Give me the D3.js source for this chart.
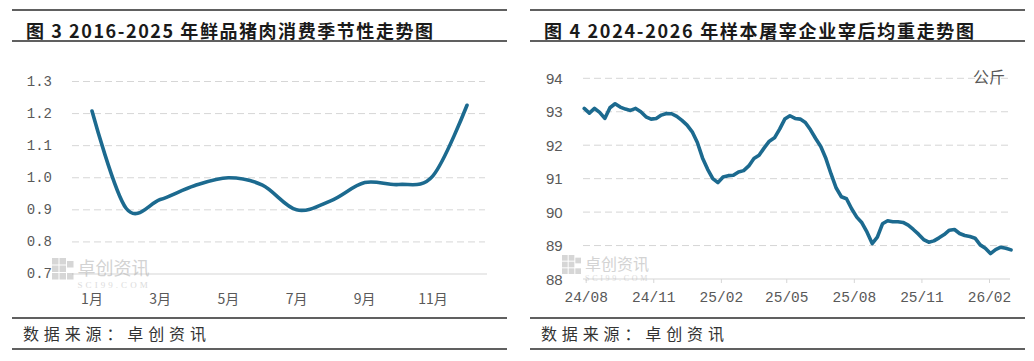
<!DOCTYPE html>
<html>
<head>
<meta charset="utf-8">
<script src="https://cdn.jsdelivr.net/npm/d3@7"></script>
<style>
  body { margin: 0; background: #fff; }
  svg { display: block; }
</style>
</head>
<body>
<div id="chart"></div>
<script>
// 图3：季节性指数（1-12月）
const months = ["1月","2月","3月","4月","5月","6月","7月","8月","9月","10月","11月","12月"];
const seasonal = [1.208, 0.905, 0.932, 0.975, 1.0, 0.977, 0.9, 0.928, 0.985, 0.979, 1.006, 1.226];
const leftTicks = [0.7, 0.8, 0.9, 1.0, 1.1, 1.2, 1.3];
const leftLabelMonths = ["1月","3月","5月","7月","9月","11月"];

// 图4：宰后均重，周度，起始 2024-07-30
const weightStart = "2024-07-30";
const weights = [
  93.10, 92.96, 93.10, 92.98, 92.80, 93.12, 93.24, 93.14, 93.08, 93.04,
  93.10, 93.00, 92.85, 92.78, 92.80, 92.90, 92.95, 92.94, 92.86, 92.74,
  92.60, 92.40, 92.08, 91.62, 91.28, 91.00, 90.88, 91.05, 91.09, 91.10,
  91.20, 91.24, 91.38, 91.60, 91.70, 91.92, 92.12, 92.22, 92.48, 92.78,
  92.88, 92.80, 92.78, 92.68, 92.46, 92.20, 91.96, 91.60, 91.14, 90.72,
  90.46, 90.40, 90.10, 89.85, 89.68, 89.40, 89.06, 89.25, 89.65, 89.74,
  89.71, 89.71, 89.69, 89.61, 89.48, 89.34, 89.18, 89.10, 89.14, 89.23,
  89.33, 89.46, 89.48, 89.36, 89.30, 89.27, 89.22, 89.02, 88.92, 88.76,
  88.88, 88.95, 88.92, 88.87
];
const rightTicks = [88, 89, 90, 91, 92, 93, 94];
const rightDateTicks = ["2024-08-01","2024-11-01","2025-02-01","2025-05-01","2025-08-01","2025-11-01","2026-02-01"];

const W = 1034, H = 361;
const lineColor = "#1c6a8f";
const gridColor = "#d6d6d6";
const cjk = "'Noto Sans CJK SC', sans-serif";

const svg = d3.select("#chart").append("svg")
  .attr("width", W).attr("height", H);
svg.append("rect").attr("width", W).attr("height", H).attr("fill", "#fff");

// frame: title lines + footer lines for each panel
function panelFrame(x0, x1, title, titleLen) {
  const g = svg.append("g");
  [10, 41, 318, 349].forEach(y => {
    g.append("line").attr("x1", x0).attr("x2", x1).attr("y1", y).attr("y2", y)
      .attr("stroke", "#2b2b2b").attr("stroke-width", 1.6);
  });
  g.append("text").attr("x", x0 + 14).attr("y", 30)
    .attr("dominant-baseline", "central")
    .attr("font-family", cjk).attr("font-weight", 700).attr("font-size", 18)
    .attr("fill", "#1a1a1a")
    .attr("textLength", titleLen).attr("lengthAdjust", "spacing")
    .text(title);
  g.append("text").attr("x", x0 + 11).attr("y", 333)
    .attr("dominant-baseline", "central")
    .attr("font-family", cjk).attr("font-size", 16)
    .attr("fill", "#333")
    .attr("textLength", 183).attr("lengthAdjust", "spacing")
    .text("数据来源：卓创资讯");
}

function watermark(x, y, size) {
  const g = svg.append("g").attr("opacity", 0.55);
  const s = size * 1.25;
  // little block logo
  const cell = s / 3;
  [[0,0],[1,0],[0,1],[1,1],[0,2],[1,2],[2,2],[2,0.4]].forEach(([cx, cy]) => {
    g.append("rect").attr("x", x + cx * cell).attr("y", y - s * 0.4 + cy * cell)
      .attr("width", cell - 1).attr("height", cell - 1).attr("fill", "#b5b5b5");
  });
  g.append("text").attr("x", x + s + 3).attr("y", y)
    .attr("dominant-baseline", "central")
    .attr("font-family", cjk).attr("font-size", size).attr("fill", "#b0b0b0")
    .text("卓创资讯");
  g.append("text").attr("x", x + s + 3).attr("y", y + size * 0.98)
    .attr("dominant-baseline", "central")
    .attr("font-family", "'Liberation Serif', serif").attr("font-size", size * 0.5)
    .attr("fill", "#c0c0c0")
    .attr("textLength", size * 3.9).attr("lengthAdjust", "spacing")
    .text("SCI99.COM");
}

panelFrame(12, 507, "图 3 2016-2025 年鲜品猪肉消费季节性走势图", 407);
panelFrame(530, 1025, "图 4 2024-2026 年样本屠宰企业宰后均重走势图", 430);

// ---------- left chart ----------
const xL = d3.scalePoint().domain(months).range([92, 467]);
const yL = d3.scaleLinear().domain([0.7, 1.3]).range([274, 81.5]);
const left = svg.append("g");

left.append("g").selectAll("line")
  .data(leftTicks.filter(d => d > 0.7))
  .enter().append("line")
  .attr("x1", 72).attr("x2", 485)
  .attr("y1", d => yL(d)).attr("y2", d => yL(d))
  .attr("stroke", gridColor).attr("stroke-width", 1)
  .attr("stroke-dasharray", "7,4");
left.append("line").attr("x1", 72).attr("x2", 487)
  .attr("y1", yL(0.7)).attr("y2", yL(0.7))
  .attr("stroke", gridColor).attr("stroke-width", 1.2);

left.append("g").selectAll("text")
  .data(leftTicks)
  .enter().append("text")
  .attr("x", 52).attr("y", d => yL(d))
  .attr("text-anchor", "end").attr("dominant-baseline", "central")
  .attr("font-family", "'Liberation Mono', monospace").attr("font-size", 14)
  .attr("fill", "#595959")
  .text(d => d.toFixed(1));

watermark(52, 267, 18);

left.append("g").selectAll("text")
  .data(leftLabelMonths)
  .enter().append("text")
  .attr("x", d => xL(d)).attr("y", 298)
  .attr("text-anchor", "middle").attr("dominant-baseline", "central")
  .attr("font-family", cjk).attr("font-size", 14)
  .attr("fill", "#595959")
  .text(d => d);

left.append("path")
  .datum(seasonal)
  .attr("fill", "none").attr("stroke", lineColor).attr("stroke-width", 3.6)
  .attr("stroke-linecap", "round").attr("stroke-linejoin", "round")
  .attr("d", d3.line()
    .x((d, i) => xL(months[i]))
    .y(d => yL(d))
    .curve(d3.curveCardinal.tension(0)));

// ---------- right chart ----------
const parse = d3.timeParse("%Y-%m-%d");
const t0 = parse(weightStart);
const weightSeries = weights.map((v, i) => ({ date: d3.timeDay.offset(t0, i * 7), value: v }));

const xR = d3.scaleTime()
  .domain([parse("2024-08-01"), parse("2026-02-01")])
  .range([585.7, 989]);
const yR = d3.scaleLinear().domain([88, 94]).range([279, 78.3]);
const right = svg.append("g");

right.append("g").selectAll("line")
  .data(rightTicks.filter(d => d > 88))
  .enter().append("line")
  .attr("x1", 583).attr("x2", 1010)
  .attr("y1", d => yR(d)).attr("y2", d => yR(d))
  .attr("stroke", gridColor).attr("stroke-width", 1)
  .attr("stroke-dasharray", "7,4");

const xAxisR = d3.axisBottom(xR)
  .tickValues(rightDateTicks.map(parse))
  .tickFormat(d3.timeFormat("%y/%m"))
  .tickSize(4).tickPadding(9);
const gx = right.append("g").attr("transform", `translate(0,${yR(88)})`).call(xAxisR);
gx.select(".domain").remove();
gx.append("line").attr("x1", 583).attr("x2", 1010)
  .attr("stroke", gridColor).attr("stroke-width", 1.2);
gx.selectAll(".tick line").attr("stroke", gridColor);
gx.selectAll(".tick text")
  .attr("font-family", "'Liberation Mono', monospace").attr("font-size", 14.5)
  .attr("fill", "#595959");

right.append("g").selectAll("text")
  .data(rightTicks)
  .enter().append("text")
  .attr("x", 562.7).attr("y", d => yR(d))
  .attr("text-anchor", "end").attr("dominant-baseline", "central")
  .attr("font-family", "'Liberation Sans', sans-serif").attr("font-size", 15)
  .attr("fill", "#595959")
  .text(d => d);

right.append("text").attr("x", 1005).attr("y", 76)
  .attr("text-anchor", "end").attr("dominant-baseline", "central")
  .attr("font-family", cjk).attr("font-size", 16).attr("fill", "#595959")
  .text("公斤");

watermark(562, 263, 16);

right.append("path")
  .datum(weightSeries)
  .attr("fill", "none").attr("stroke", lineColor).attr("stroke-width", 3.6)
  .attr("stroke-linecap", "round").attr("stroke-linejoin", "round")
  .attr("d", d3.line()
    .x(d => xR(d.date))
    .y(d => yR(d.value)));
</script>
</body>
</html>
